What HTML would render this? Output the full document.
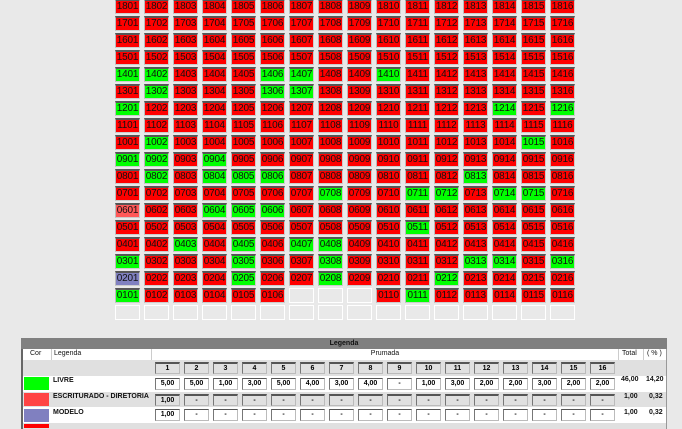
<!DOCTYPE html>
<html><head><meta charset="utf-8">
<style>
body{margin:0;width:682px;height:426px;background:#e9e9e9;position:relative;overflow:hidden;font-family:"Liberation Sans",sans-serif}
#g{position:absolute;left:115px;top:-1px;display:grid;grid-template-columns:repeat(16,25px);grid-auto-rows:15px;column-gap:4px;row-gap:2px}
#g div{box-sizing:border-box;background:#f00;border-top:2px solid #555;border-left:1px solid #bbb;border-right:1px solid #ccc;border-bottom:1px solid #ccc;font-size:10px;line-height:12px;text-align:center;color:#111;letter-spacing:-0.2px}
#g div.g{background:#0f0}
#g div.l{background:#ff5858}
#g div.p{background:#8080c0}
#g div.e{background:#e9e9e9;border:1px solid #fff}
.a{position:absolute;box-sizing:border-box}
.t{font-size:7px;font-weight:bold;color:#111;white-space:nowrap}
.bx{position:absolute;width:25px;height:12px;box-sizing:border-box;border-top:1px solid #555;border-left:1px solid #777;border-right:1px solid #bbb;border-bottom:1px solid #bbb;font-size:7px;font-weight:bold;text-align:center;line-height:10px;background:#fff}
.hb{background:#e0e0e0;border-top:2px solid #555}
</style></head><body>
<div id="g">
<div>1801</div><div>1802</div><div>1803</div><div>1804</div><div>1805</div><div>1806</div><div>1807</div><div>1808</div><div>1809</div><div>1810</div><div>1811</div><div>1812</div><div>1813</div><div>1814</div><div>1815</div><div>1816</div>
<div>1701</div><div>1702</div><div>1703</div><div>1704</div><div>1705</div><div>1706</div><div>1707</div><div>1708</div><div>1709</div><div>1710</div><div>1711</div><div>1712</div><div>1713</div><div>1714</div><div>1715</div><div>1716</div>
<div>1601</div><div>1602</div><div>1603</div><div>1604</div><div>1605</div><div>1606</div><div>1607</div><div>1608</div><div>1609</div><div>1610</div><div>1611</div><div>1612</div><div>1613</div><div>1614</div><div>1615</div><div>1616</div>
<div>1501</div><div>1502</div><div>1503</div><div>1504</div><div>1505</div><div>1506</div><div>1507</div><div>1508</div><div>1509</div><div>1510</div><div>1511</div><div>1512</div><div>1513</div><div>1514</div><div>1515</div><div>1516</div>
<div class="g">1401</div><div class="g">1402</div><div>1403</div><div>1404</div><div>1405</div><div class="g">1406</div><div class="g">1407</div><div>1408</div><div>1409</div><div class="g">1410</div><div>1411</div><div>1412</div><div>1413</div><div>1414</div><div>1415</div><div>1416</div>
<div>1301</div><div class="g">1302</div><div>1303</div><div>1304</div><div>1305</div><div class="g">1306</div><div class="g">1307</div><div>1308</div><div>1309</div><div>1310</div><div>1311</div><div>1312</div><div>1313</div><div>1314</div><div>1315</div><div>1316</div>
<div class="g">1201</div><div>1202</div><div>1203</div><div>1204</div><div>1205</div><div>1206</div><div>1207</div><div>1208</div><div>1209</div><div>1210</div><div>1211</div><div>1212</div><div>1213</div><div class="g">1214</div><div>1215</div><div class="g">1216</div>
<div>1101</div><div>1102</div><div>1103</div><div>1104</div><div>1105</div><div>1106</div><div>1107</div><div>1108</div><div>1109</div><div>1110</div><div>1111</div><div>1112</div><div>1113</div><div>1114</div><div>1115</div><div>1116</div>
<div>1001</div><div class="g">1002</div><div>1003</div><div>1004</div><div>1005</div><div>1006</div><div>1007</div><div>1008</div><div>1009</div><div>1010</div><div>1011</div><div>1012</div><div>1013</div><div>1014</div><div class="g">1015</div><div>1016</div>
<div class="g">0901</div><div class="g">0902</div><div>0903</div><div class="g">0904</div><div>0905</div><div>0906</div><div>0907</div><div>0908</div><div>0909</div><div>0910</div><div>0911</div><div>0912</div><div>0913</div><div>0914</div><div>0915</div><div>0916</div>
<div>0801</div><div class="g">0802</div><div>0803</div><div class="g">0804</div><div class="g">0805</div><div class="g">0806</div><div>0807</div><div>0808</div><div>0809</div><div>0810</div><div>0811</div><div>0812</div><div class="g">0813</div><div>0814</div><div>0815</div><div>0816</div>
<div>0701</div><div>0702</div><div>0703</div><div>0704</div><div>0705</div><div>0706</div><div>0707</div><div class="g">0708</div><div>0709</div><div>0710</div><div class="g">0711</div><div class="g">0712</div><div>0713</div><div class="g">0714</div><div class="g">0715</div><div>0716</div>
<div class="l">0601</div><div>0602</div><div>0603</div><div class="g">0604</div><div class="g">0605</div><div class="g">0606</div><div>0607</div><div>0608</div><div>0609</div><div>0610</div><div>0611</div><div>0612</div><div>0613</div><div>0614</div><div>0615</div><div>0616</div>
<div>0501</div><div>0502</div><div>0503</div><div>0504</div><div>0505</div><div>0506</div><div>0507</div><div>0508</div><div>0509</div><div>0510</div><div class="g">0511</div><div>0512</div><div>0513</div><div>0514</div><div>0515</div><div>0516</div>
<div>0401</div><div>0402</div><div class="g">0403</div><div>0404</div><div class="g">0405</div><div>0406</div><div class="g">0407</div><div class="g">0408</div><div>0409</div><div>0410</div><div>0411</div><div>0412</div><div>0413</div><div>0414</div><div>0415</div><div>0416</div>
<div class="g">0301</div><div>0302</div><div>0303</div><div>0304</div><div class="g">0305</div><div>0306</div><div>0307</div><div class="g">0308</div><div>0309</div><div>0310</div><div>0311</div><div>0312</div><div class="g">0313</div><div class="g">0314</div><div>0315</div><div class="g">0316</div>
<div class="p">0201</div><div>0202</div><div>0203</div><div>0204</div><div class="g">0205</div><div>0206</div><div>0207</div><div class="g">0208</div><div>0209</div><div>0210</div><div>0211</div><div class="g">0212</div><div>0213</div><div>0214</div><div>0215</div><div>0216</div>
<div class="g">0101</div><div>0102</div><div>0103</div><div>0104</div><div>0105</div><div>0106</div><div class="e"></div><div class="e"></div><div class="e"></div><div>0110</div><div class="g">0111</div><div>0112</div><div>0113</div><div>0114</div><div>0115</div><div>0116</div>
<div class="e"></div><div class="e"></div><div class="e"></div><div class="e"></div><div class="e"></div><div class="e"></div><div class="e"></div><div class="e"></div><div class="e"></div><div class="e"></div><div class="e"></div><div class="e"></div><div class="e"></div><div class="e"></div><div class="e"></div><div class="e"></div>
</div>

<div class="a" style="left:21px;top:338px;width:646px;height:11px;background:#808080"></div>
<div class="a t" style="left:21px;top:339px;width:646px;text-align:center;line-height:9px">Legenda</div>
<div class="a" style="left:21px;top:349px;width:646px;height:80px;background:#fff;border-left:2px solid #666;border-right:1px solid #999"></div>
<div class="a" style="left:23px;top:360px;width:643px;height:16px;background:#e0e0e0"></div>
<div class="a" style="left:23px;top:392px;width:643px;height:15px;background:#e0e0e0"></div>
<div class="a" style="left:23px;top:423px;width:643px;height:6px;background:#e0e0e0"></div>
<div class="a" style="left:51px;top:349px;width:1px;height:11px;background:#ccc"></div>
<div class="a" style="left:151px;top:349px;width:1px;height:11px;background:#ccc"></div>
<div class="a" style="left:618px;top:349px;width:1px;height:11px;background:#ccc"></div>
<div class="a" style="left:643px;top:349px;width:1px;height:11px;background:#ccc"></div>
<div class="a t" style="left:30px;top:350px;font-weight:normal">Cor</div>
<div class="a t" style="left:54px;top:350px;font-weight:normal">Legenda</div>
<div class="a t" style="left:152px;top:350px;width:466px;text-align:center;font-weight:normal">Prumada</div>
<div class="a t" style="left:622px;top:350px;font-weight:normal">Total</div>
<div class="a t" style="left:647px;top:350px;font-weight:normal">( % )</div>

<div class="a" style="left:24px;top:377px;width:25px;height:13px;background:#0f0"></div>
<div class="a" style="left:24px;top:393px;width:25px;height:13px;background:#ff4444"></div>
<div class="a" style="left:24px;top:409px;width:25px;height:13px;background:#8080c0"></div>
<div class="a" style="left:24px;top:424px;width:25px;height:4px;background:#f00"></div>
<div class="a t" style="left:53px;top:377px">LIVRE</div>
<div class="a t" style="left:53px;top:393px">ESCRITURADO - DIRETORIA</div>
<div class="a t" style="left:53px;top:409px">MODELO</div>

<div class="bx hb" style="left:155px;top:362px">1</div><div class="bx hb" style="left:184px;top:362px">2</div><div class="bx hb" style="left:213px;top:362px">3</div><div class="bx hb" style="left:242px;top:362px">4</div><div class="bx hb" style="left:271px;top:362px">5</div><div class="bx hb" style="left:300px;top:362px">6</div><div class="bx hb" style="left:329px;top:362px">7</div><div class="bx hb" style="left:358px;top:362px">8</div><div class="bx hb" style="left:387px;top:362px">9</div><div class="bx hb" style="left:416px;top:362px">10</div><div class="bx hb" style="left:445px;top:362px">11</div><div class="bx hb" style="left:474px;top:362px">12</div><div class="bx hb" style="left:503px;top:362px">13</div><div class="bx hb" style="left:532px;top:362px">14</div><div class="bx hb" style="left:561px;top:362px">15</div><div class="bx hb" style="left:590px;top:362px">16</div>

<div class="bx" style="left:155px;top:378px">5,00</div><div class="bx" style="left:184px;top:378px">5,00</div><div class="bx" style="left:213px;top:378px">1,00</div><div class="bx" style="left:242px;top:378px">3,00</div><div class="bx" style="left:271px;top:378px">5,00</div><div class="bx" style="left:300px;top:378px">4,00</div><div class="bx" style="left:329px;top:378px">3,00</div><div class="bx" style="left:358px;top:378px">4,00</div><div class="bx" style="left:387px;top:378px">-</div><div class="bx" style="left:416px;top:378px">1,00</div><div class="bx" style="left:445px;top:378px">3,00</div><div class="bx" style="left:474px;top:378px">2,00</div><div class="bx" style="left:503px;top:378px">2,00</div><div class="bx" style="left:532px;top:378px">3,00</div><div class="bx" style="left:561px;top:378px">2,00</div><div class="bx" style="left:590px;top:378px">2,00</div>

<div class="bx hb" style="left:155px;top:394px">1,00</div><div class="bx hb" style="left:184px;top:394px">-</div><div class="bx hb" style="left:213px;top:394px">-</div><div class="bx hb" style="left:242px;top:394px">-</div><div class="bx hb" style="left:271px;top:394px">-</div><div class="bx hb" style="left:300px;top:394px">-</div><div class="bx hb" style="left:329px;top:394px">-</div><div class="bx hb" style="left:358px;top:394px">-</div><div class="bx hb" style="left:387px;top:394px">-</div><div class="bx hb" style="left:416px;top:394px">-</div><div class="bx hb" style="left:445px;top:394px">-</div><div class="bx hb" style="left:474px;top:394px">-</div><div class="bx hb" style="left:503px;top:394px">-</div><div class="bx hb" style="left:532px;top:394px">-</div><div class="bx hb" style="left:561px;top:394px">-</div><div class="bx hb" style="left:590px;top:394px">-</div>

<div class="bx" style="left:155px;top:409px">1,00</div><div class="bx" style="left:184px;top:409px">-</div><div class="bx" style="left:213px;top:409px">-</div><div class="bx" style="left:242px;top:409px">-</div><div class="bx" style="left:271px;top:409px">-</div><div class="bx" style="left:300px;top:409px">-</div><div class="bx" style="left:329px;top:409px">-</div><div class="bx" style="left:358px;top:409px">-</div><div class="bx" style="left:387px;top:409px">-</div><div class="bx" style="left:416px;top:409px">-</div><div class="bx" style="left:445px;top:409px">-</div><div class="bx" style="left:474px;top:409px">-</div><div class="bx" style="left:503px;top:409px">-</div><div class="bx" style="left:532px;top:409px">-</div><div class="bx" style="left:561px;top:409px">-</div><div class="bx" style="left:590px;top:409px">-</div>

<div class="a t" style="left:621px;top:376px">46,00</div><div class="a t" style="left:646px;top:376px">14,20</div>
<div class="a t" style="left:624px;top:393px">1,00</div><div class="a t" style="left:649px;top:393px">0,32</div>
<div class="a t" style="left:624px;top:409px">1,00</div><div class="a t" style="left:649px;top:409px">0,32</div>
</body></html>
